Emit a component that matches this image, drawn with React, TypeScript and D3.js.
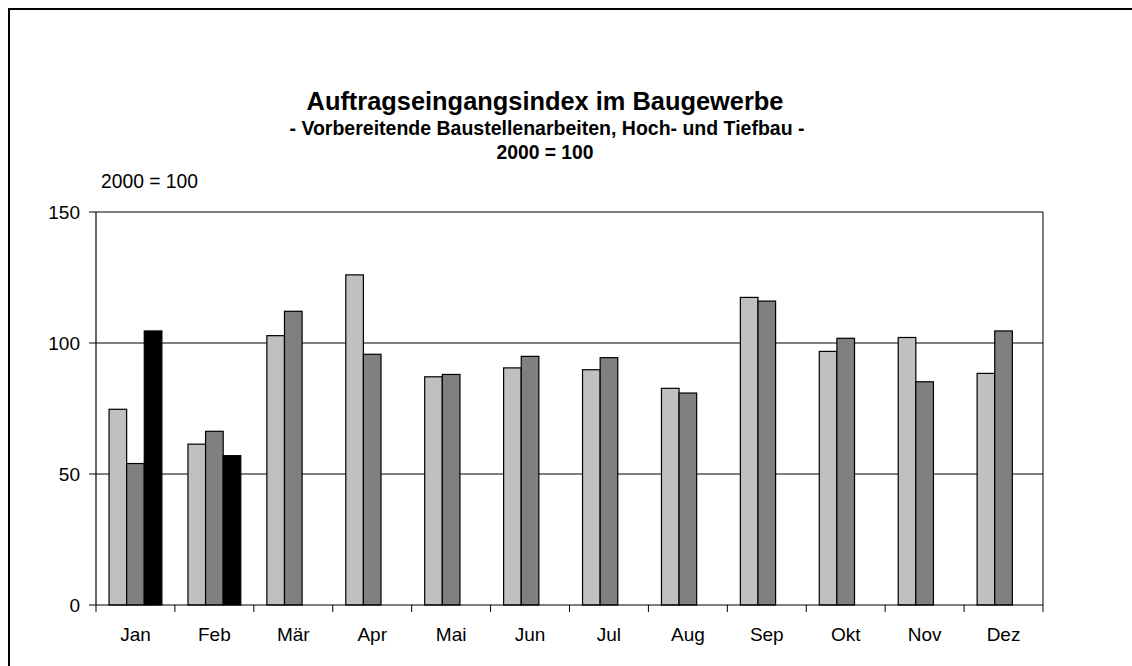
import React from "react";
import * as d3 from "d3";

const months = ["Jan", "Feb", "Mär", "Apr", "Mai", "Jun", "Jul", "Aug", "Sep", "Okt", "Nov", "Dez"];
const series1 = [74.7, 61.4, 102.8, 126.0, 87.1, 90.5, 89.8, 82.7, 117.4, 96.8, 102.1, 88.4];
const series2 = [54.0, 66.3, 112.1, 95.7, 88.0, 94.9, 94.4, 80.9, 116.0, 101.8, 85.2, 104.6];
const series3 = [104.6, 57.0, null, null, null, null, null, null, null, null, null, null];
const seriesKeys = ["s1", "s2", "s3"];
const seriesColors = ["#c0c0c0", "#808080", "#000000"];
const yTicks = [0, 50, 100, 150];

const W = 1132;
const H = 666;
const plot = { left: 96, right: 1043, top: 212, bottom: 605 };
const font = "'Liberation Sans', Arial, sans-serif";
const titleX = 545;

export default function App() {
  const x = d3.scaleBand().domain(months).range([plot.left, plot.right]).paddingInner(0).paddingOuter(0);
  const xInner = d3.scaleBand().domain(seriesKeys).range([0, x.bandwidth()]).paddingInner(0).paddingOuter(0.74);
  const y = d3.scaleLinear().domain([0, 150]).range([plot.bottom, plot.top]);

  const allSeries = [series1, series2, series3];

  // boundaries between categories for the x ticks
  const xTickPos = months.map((m) => x(m) as number).concat([plot.right]);

  return (
    <svg width={W} height={H} style={{ position: "absolute", left: 0, top: 0, background: "#fff" }}>
      {/* outer frame, cut off at the right and bottom */}
      <rect x={9} y={9} width={1300} height={900} fill="none" stroke="#000" strokeWidth={2} />

      {/* titles */}
      <text x={titleX} y={110} textAnchor="middle" fontFamily={font} fontWeight="bold" fontSize={25.4}>
        Auftragseingangsindex im Baugewerbe
      </text>
      <text x={titleX + 2} y={135} textAnchor="middle" fontFamily={font} fontWeight="bold" fontSize={19.5}>
        - Vorbereitende Baustellenarbeiten, Hoch- und Tiefbau -
      </text>
      <text x={titleX} y={159} textAnchor="middle" fontFamily={font} fontWeight="bold" fontSize={19.3}>
        2000 = 100
      </text>

      <text x={101} y={188} fontFamily={font} fontSize={19.3}>
        2000 = 100
      </text>

      {/* gridlines */}
      {yTicks.filter((t) => t > 0).map((t) => (
        <line key={t} x1={plot.left} x2={plot.right} y1={y(t)} y2={y(t)} stroke="#000" strokeWidth={1} />
      ))}
      <line x1={plot.right} x2={plot.right} y1={plot.top} y2={plot.bottom} stroke="#000" strokeWidth={1} />

      {/* bars */}
      {allSeries.map((s, si) =>
        s.map((v, i) =>
          v == null ? null : (
            <rect
              key={`${si}-${i}`}
              x={(x(months[i]) as number) + (xInner(seriesKeys[si]) as number)}
              y={y(v)}
              width={xInner.bandwidth()}
              height={y(0) - y(v)}
              fill={seriesColors[si]}
              stroke="#000"
              strokeWidth={1.2}
            />
          )
        )
      )}

      {/* y axis */}
      <line x1={plot.left} x2={plot.left} y1={plot.top} y2={plot.bottom} stroke="#000" strokeWidth={1.2} />
      {yTicks.map((t) => (
        <g key={t}>
          <line x1={plot.left - 7} x2={plot.left} y1={y(t)} y2={y(t)} stroke="#000" strokeWidth={1} />
          <text x={plot.left - 16} y={y(t)} dy="0.35em" textAnchor="end" fontFamily={font} fontSize={19}>
            {t}
          </text>
        </g>
      ))}

      {/* x axis */}
      <line x1={plot.left} x2={plot.right} y1={plot.bottom} y2={plot.bottom} stroke="#000" strokeWidth={1.2} />
      {xTickPos.map((p, i) => (
        <line key={i} x1={p} x2={p} y1={plot.bottom} y2={plot.bottom + 7} stroke="#000" strokeWidth={1} />
      ))}
      {months.map((m) => (
        <text
          key={m}
          x={(x(m) as number) + x.bandwidth() / 2}
          y={641}
          textAnchor="middle"
          fontFamily={font}
          fontSize={19}
        >
          {m}
        </text>
      ))}
    </svg>
  );
}
